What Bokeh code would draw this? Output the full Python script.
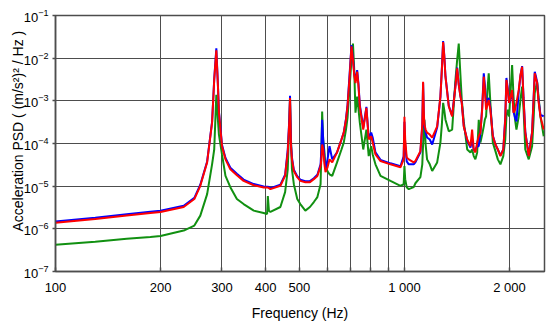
from bokeh.plotting import figure
from bokeh.models import FixedTicker, Title, LogTickFormatter
from bokeh.embed import file_html
from bokeh.resources import INLINE

# Frequency grid (Hz) shared by the three series
freq = [100, 130, 160, 187, 200, 233, 250, 260, 272, 281, 285, 289, 292, 294, 300, 307, 317, 331, 346, 370, 395,
        404, 406, 409, 413, 441, 455, 463, 468, 470, 473, 476, 482, 493, 503, 520, 536, 550, 563, 575, 578, 581, 585, 590, 594, 602, 610, 621,
        641, 660, 670, 680, 687, 697, 705, 712, 718, 724, 732, 738, 745, 762, 778, 790, 803, 811, 826, 854, 912, 974, 995, 1000, 1005, 1015, 1029, 1063,
        1075, 1111, 1125, 1131, 1137, 1141, 1150, 1161, 1182, 1201, 1241, 1268, 1280, 1291, 1300, 1311, 1340, 1370, 1400, 1416, 1431, 1447, 1460, 1479, 1513, 1546, 1563, 1580, 1597,
        1616, 1633, 1651, 1670, 1688, 1700, 1714, 1730, 1744, 1763, 1792, 1823, 1852, 1884, 1920, 1945, 1960, 1977, 1995, 2020, 2035, 2054, 2075, 2094, 2126, 2150, 2174, 2195, 2220, 2271, 2322, 2345, 2363, 2380, 2400, 2420, 2453, 2507]

psd_blue = [1.48e-6, 1.83e-6, 2.21e-6, 2.53e-6, 2.67e-6, 3.48e-6, 5.3e-6, 1.08e-5, 3.8e-5, 3.2e-4, 3.2e-3, 1.71e-2, 2.5e-3, 5.7e-4, 9.4e-5, 4.6e-5, 2.7e-5, 1.95e-5, 1.43e-5, 1.12e-5, 9.8e-6,
            9.73e-6, 9.73e-6, 9.48e-6, 8.98e-6, 1.08e-5, 1.85e-5, 7.24e-5, 4.03e-4, 1.31e-3, 1.0e-4, 4.72e-5, 2.42e-5, 1.71e-5, 1.42e-5, 1.31e-5, 1.31e-5, 1.53e-5, 1.85e-5, 3.25e-5, 7.24e-5, 3.61e-4, 1.24e-4, 4.25e-5, 2.48e-5, 4.25e-5, 8.65e-5, 4.25e-5,
            6.18e-5, 1.24e-4, 1.80e-4, 3.81e-4, 8.07e-4, 4.72e-3, 2.01e-2, 1.0e-2, 4.48e-3, 2.92e-3, 5.26e-3, 2.62e-3, 8.07e-4, 2.36e-4, 7.24e-4, 1.38e-4, 1.80e-4, 1.38e-4, 6.18e-5, 4.13e-5, 3.43e-5, 2.92e-5, 4.99e-5, 3.25e-4, 9.48e-5, 3.81e-5, 3.25e-5, 3.25e-5,
            3.61e-5, 6.18e-5, 2.62e-4, 2.62e-3, 4.48e-4, 2.48e-4, 1.80e-4, 1.38e-4, 1.24e-4, 9.48e-5, 2.36e-4, 1.24e-3, 5.55e-3, 2.52e-2, 1.24e-2, 3.81e-3, 7.66e-4, 4.48e-4, 2.23e-3, 6.01e-3, 2.48e-3, 1.31e-3, 8.98e-4, 2.62e-4, 1.17e-4, 8.07e-5, 1.24e-4, 6.87e-5, 7.24e-5,
            8.65e-5, 8.65e-5, 1.80e-4, 6.87e-4, 4.41e-3, 2.36e-3, 8.98e-4, 1.05e-3, 1.17e-3, 6.87e-4, 1.53e-4, 9.48e-5, 7.24e-5, 5.26e-5, 7.24e-5, 4.03e-4, 3.43e-3, 2.01e-3, 8.98e-4, 1.24e-3,
            1.62e-3, 5.55e-4, 4.03e-4, 3.30e-4, 1.62e-3, 3.81e-3, 6.52e-3, 1.17e-3, 1.90e-4, 5.26e-5, 1.90e-4, 1.17e-3, 4.80e-3, 3.81e-3, 2.77e-3, 1.17e-3, 4.72e-4, 4.31e-4]

psd_red = [1.38e-6, 1.71e-6, 2.06e-6, 2.36e-6, 2.49e-6, 3.25e-6, 4.99e-6, 1.02e-5, 3.61e-5, 3.08e-4, 3.08e-3, 1.53e-2, 2.36e-3, 5.26e-4, 8.65e-5, 4.25e-5, 2.48e-5, 1.80e-5, 1.33e-5, 1.05e-5, 9.33e-6,
           9.33e-6, 9.23e-6, 8.98e-6, 8.51e-6, 1.02e-5, 1.74e-5, 6.18e-5, 3.61e-4, 1.17e-3, 8.65e-5, 4.25e-5, 2.27e-5, 1.62e-5, 1.33e-5, 1.24e-5, 1.24e-5, 1.46e-5, 1.74e-5, 2.97e-5, 4.25e-5, 9.48e-5, 7.24e-5, 3.25e-5, 2.12e-5, 2.77e-5, 4.25e-5, 3.61e-5,
           6.18e-5, 1.24e-4, 1.80e-4, 3.61e-4, 7.37e-4, 4.03e-3, 1.90e-2, 8.98e-3, 4.03e-3, 2.62e-3, 4.80e-3, 2.36e-3, 7.37e-4, 2.12e-4, 6.87e-4, 1.24e-4, 1.48e-4, 1.05e-4, 5.55e-5, 3.88e-5, 3.25e-5, 2.77e-5, 4.25e-5, 4.25e-4, 1.24e-4, 4.73e-5, 4.25e-5, 3.61e-5,
           3.88e-5, 6.62e-5, 2.77e-4, 2.81e-3, 4.72e-4, 2.77e-4, 2.12e-4, 1.80e-4, 1.62e-4, 1.38e-4, 2.52e-4, 1.26e-3, 5.26e-3, 2.39e-2, 1.17e-2, 3.68e-3, 7.37e-4, 4.31e-4, 2.15e-3, 5.76e-3, 2.36e-3, 1.26e-3, 8.98e-4, 2.52e-4, 1.24e-4, 8.65e-5, 2.12e-4, 7.24e-5, 6.18e-5,
           1.05e-4, 1.48e-4, 1.80e-4, 6.18e-4, 3.68e-3, 1.80e-3, 6.18e-4, 8.07e-4, 1.05e-3, 6.18e-4, 1.48e-4, 9.48e-5, 7.24e-5, 5.07e-5, 7.24e-5, 3.61e-4, 3.08e-3, 1.80e-3, 8.98e-4, 1.38e-3,
           1.80e-3, 5.26e-4, 6.18e-4, 8.98e-4, 1.80e-3, 4.03e-3, 6.28e-3, 1.05e-3, 1.80e-4, 5.07e-5, 1.80e-4, 1.05e-3, 4.41e-3, 3.43e-3, 2.62e-3, 1.05e-3, 4.31e-4, 2.12e-4]

psd_green = [4.25e-7, 4.99e-7, 5.85e-7, 6.41e-7, 6.76e-7, 9.12e-7, 1.19e-6, 2.04e-6, 6.52e-6, 3.25e-5, 7.24e-5, 1.38e-3, 3.61e-4, 1.62e-4, 5.55e-5, 1.74e-5, 9.48e-6, 4.99e-6, 3.81e-6, 2.67e-6, 2.36e-6,
             2.23e-6, 5.85e-6, 2.62e-6, 2.49e-6, 3.25e-6, 7.24e-6, 2.48e-5, 3.61e-4, 1.05e-3, 1.24e-4, 2.48e-5, 1.11e-5, 4.99e-6, 3.81e-6, 2.67e-6, 3.25e-6, 4.25e-6, 5.55e-6, 1.11e-5, 6.18e-5, 5.63e-4, 1.24e-4, 6.18e-5, 2.97e-5, 2.23e-5, 1.90e-5, 1.74e-5,
             3.61e-5, 7.24e-5, 1.05e-4, 2.12e-4, 4.03e-4, 2.36e-3, 8.98e-3, 2.20e-2, 5.26e-3, 5.26e-4, 1.26e-3, 6.87e-4, 3.08e-4, 7.24e-5, 2.12e-4, 5.07e-5, 8.65e-5, 5.55e-5, 3.25e-5, 1.74e-5, 1.33e-5, 1.02e-5, 1.11e-5, 2.97e-5, 1.46e-5, 9.48e-6, 8.51e-6, 9.48e-6,
             1.17e-5, 1.62e-5, 3.25e-5, 9.48e-5, 2.36e-4, 3.61e-4, 9.48e-5, 4.25e-5, 3.25e-5, 2.27e-5, 3.61e-5, 1.05e-4, 2.77e-4, 8.98e-4, 6.18e-4, 3.61e-4, 1.93e-4, 2.12e-4, 3.08e-3, 8.98e-3, 2.20e-2, 4.03e-3, 1.05e-3, 3.30e-4, 7.24e-5, 6.18e-5, 7.24e-5, 5.07e-5, 4.25e-5,
             6.18e-5, 3.61e-4, 1.05e-4, 1.62e-4, 2.52e-4, 3.61e-4, 4.31e-4, 1.80e-3, 4.41e-3, 8.98e-4, 1.05e-4, 6.62e-5, 4.25e-5, 3.25e-5, 5.07e-5, 1.24e-4, 4.31e-4, 6.18e-4, 4.31e-4, 2.36e-3,
             6.87e-3, 1.26e-3, 3.61e-4, 2.12e-4, 4.31e-4, 1.05e-3, 2.15e-3, 6.18e-4, 7.24e-5, 4.25e-5, 8.65e-5, 3.61e-4, 1.53e-3, 2.01e-3, 2.81e-3, 1.38e-3, 4.31e-4, 1.48e-4]

assert len(freq) == len(psd_blue) == len(psd_red) == len(psd_green)

x_ticks = [100, 200, 300, 400, 500, 600, 700, 800, 900, 1000, 2000]
x_tick_labels = ["100", "200", "300", "400", "500", "", "", "", "", "1 000", "2 000"]
y_ticks = [1e-7, 1e-6, 1e-5, 1e-4, 1e-3, 1e-2, 1e-1]

x_label = "Frequency (Hz)"
y_label = "Acceleration PSD ( (m/s²)² / Hz )"

FONT = "Liberation Sans"
GRID = "#4d4d4d"

p = figure(width=550, height=323, x_axis_type="log", y_axis_type="log",
           x_range=(100, 2520), y_range=(1e-7, 1e-1),
           output_backend="svg", toolbar_location=None,
           min_border_left=55, min_border_right=6, min_border_top=15, min_border_bottom=50,
           background_fill_color="white", border_fill_color="white")

p.outline_line_color = GRID
p.outline_line_width = 1.5

xt = FixedTicker(ticks=x_ticks, minor_ticks=[])
yt = FixedTicker(ticks=y_ticks, minor_ticks=[])
p.xaxis.ticker = xt
p.yaxis.ticker = yt
p.xgrid.ticker = xt
p.ygrid.ticker = yt
p.xaxis.major_label_overrides = {float(t): s for t, s in zip(x_ticks, x_tick_labels)}
p.yaxis.formatter = LogTickFormatter()

for g in (p.xgrid, p.ygrid):
    g.grid_line_color = GRID
    g.grid_line_width = 1
    g.grid_line_alpha = 1.0

for ax in (p.xaxis, p.yaxis):
    ax.axis_line_color = GRID
    ax.axis_line_width = 1.5
    ax.major_tick_line_color = GRID
    ax.major_tick_line_width = 1.5
    ax.major_label_text_font = FONT
    ax.major_label_text_font_size = "13px"
    ax.major_label_text_color = "black"
    ax.minor_tick_line_color = None

p.xaxis.major_tick_in = 4
p.xaxis.major_tick_out = 0
p.xaxis.major_label_standoff = 8
p.xaxis.axis_label = x_label
p.xaxis.axis_label_text_font = FONT
p.xaxis.axis_label_text_font_size = "14px"
p.xaxis.axis_label_text_font_style = "normal"
p.xaxis.axis_label_text_color = "black"
p.xaxis.axis_label_standoff = 7

p.yaxis.major_tick_in = 0
p.yaxis.major_tick_out = 3
p.yaxis.major_label_standoff = 4
p.yaxis.axis_label_standoff = 0

y_title = Title(text=y_label, align="left", offset=40, standoff=0, text_font=FONT,
                text_font_size="14px", text_font_style="normal", text_color="black")
try:
    y_title.standoff = -10
except Exception:
    pass
p.add_layout(y_title, "left")

p.line(freq, psd_green, line_color="#119011", line_width=2)
p.line(freq, psd_blue, line_color="#0000ff", line_width=2)
p.line(freq, psd_red, line_color="#ff0000", line_width=2)

open("out.html", "w").write(file_html(p, INLINE))
